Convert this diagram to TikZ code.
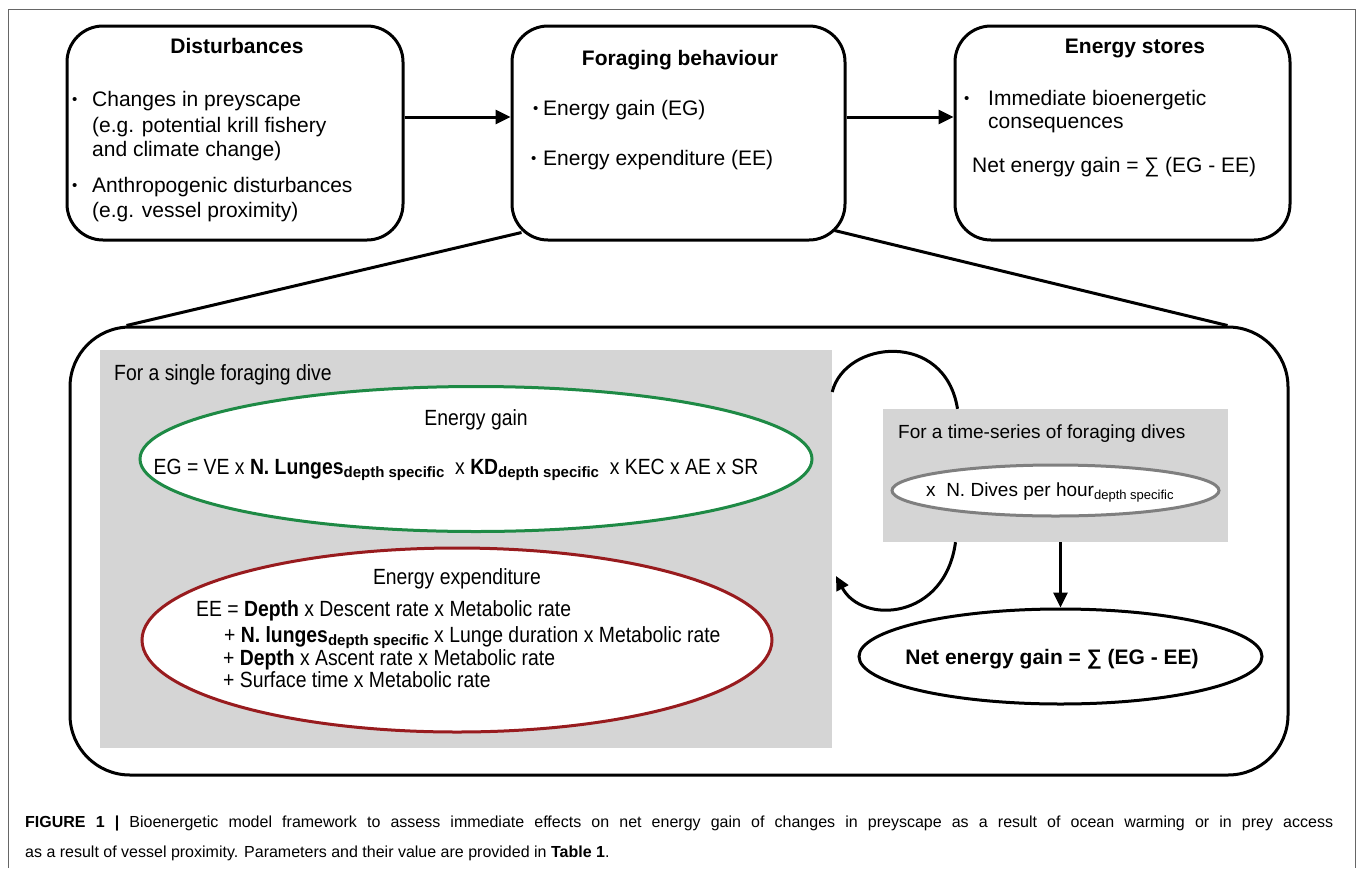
\documentclass[tikz,border=0pt]{standalone}
\usepackage{fontspec}
\setmainfont{Liberation Sans}
\newfontfamily\cond[FakeStretch=0.88]{Liberation Sans}
\usetikzlibrary{arrows.meta,shapes.geometric}
\definecolor{eggreen}{HTML}{1E8A45}
\definecolor{eered}{HTML}{981B1E}
\definecolor{boxgray}{HTML}{D5D5D5}
\definecolor{ellgray}{HTML}{7F7F7F}
\definecolor{framegray}{HTML}{666666}
\begin{document}
\begin{tikzpicture}[x=1pt,y=-1pt,
  rbox/.style={draw, line width=3pt, rounded corners=36pt, inner sep=0pt, fill=white},
  graybox/.style={fill=boxgray, draw=none, inner sep=0pt},
  ell/.style={ellipse, draw, line width=3pt, fill=white, inner sep=0pt},
  txt/.style={inner sep=0pt, font=\fontsize{21}{25}\selectfont},
  bul/.style={inner sep=0pt, anchor=base west, font=\fontsize{15}{15}\selectfont},
  ttl/.style={inner sep=0pt, font=\fontsize{21}{25}\selectfont\bfseries, anchor=base},
  ctxt/.style={inner sep=0pt, font=\cond\fontsize{22}{26}\selectfont},
  conn/.style={line width=3pt},
  arr/.style={line width=3pt, -{Triangle[length=15pt,width=14pt]}},
  carr/.style={line width=3pt, -{Triangle[length=14pt,width=13pt]}},
  capt/.style={inner sep=0pt, anchor=base west, font=\fontsize{16}{19}\selectfont}
]
\useasboundingbox (0,0) rectangle (1358,868);
% outer frame
\draw[framegray, line width=1pt] (8,868) -- (8,9) -- (1355,9) -- (1355,868);

% top boxes
\node[rbox, minimum width=336pt, minimum height=214pt] (dist) at (235,133) {};
\node[rbox, minimum width=333pt, minimum height=214pt] (forag) at (678.5,133) {};
\node[rbox, minimum width=335pt, minimum height=214pt] (store) at (1122.5,133) {};

\draw[arr] ([yshift=16pt]dist.east) -- ([yshift=16pt]forag.west);
\draw[arr] ([yshift=16pt]forag.east) -- ([yshift=16pt]store.west);

% Disturbances text
\node[ttl] (distT) at (237,53) {Disturbances};
\node[bul] (distb1) at (72,104) {•};
\node[txt, anchor=base west] (distl1) at (92,106) {Changes in preyscape};
\node[txt, anchor=base west] (distl2) at (92,132) {(e.g. potential krill fishery};
\node[txt, anchor=base west] (distl3) at (92,156) {and climate change)};
\node[bul] (distb2) at (72,190) {•};
\node[txt, anchor=base west] (distl4) at (92,192) {Anthropogenic disturbances};
\node[txt, anchor=base west] (distl5) at (92,217) {(e.g. vessel proximity)};

% Foraging text
\node[ttl] (foragT) at (680,65) {Foraging behaviour};
\node[bul] (foragb1) at (533,113) {•};
\node[txt, anchor=base west] (foragl1) at (543,115) {Energy gain (EG)};
\node[bul] (foragb2) at (531,163) {•};
\node[txt, anchor=base west] (foragl2) at (543,165) {Energy expenditure (EE)};

% Energy stores text
\node[ttl] (storeT) at (1135,53) {Energy stores};
\node[bul] (storeb1) at (964,103) {•};
\node[txt, anchor=base west] (storel1) at (988,105) {Immediate bioenergetic};
\node[txt, anchor=base west] (storel2) at (988,128) {consequences};
\node[txt, anchor=base west] (storel3) at (972,172) {Net energy gain = ∑ (EG - EE)};

% big box
\node[rbox, rounded corners=60pt, minimum width=1218pt, minimum height=448pt] (big) at (679,551) {};
\draw[conn] ([xshift=11pt,yshift=9pt]forag.south west) -- ([xshift=58pt]big.north west);
\draw[conn] ([xshift=-12pt,yshift=11pt]forag.south east) -- ([xshift=-62pt]big.north east);

% single dive panel
\node[graybox, minimum width=732pt, minimum height=398pt] (single) at (466,549) {};
\node[ctxt, anchor=base west] (singleT) at (114,380) {For a single foraging dive};

\node[ell, draw=eggreen, minimum width=672pt, minimum height=145pt] (eg) at (476,459) {};
\node[ctxt, anchor=base] (egT) at (476,425) {Energy gain};
\node[ctxt, anchor=base] (egF) at (456,474) {EG = VE x \textbf{N. Lunges}{\normalfont\fontsize{15}{15}\selectfont\bfseries\raisebox{-3pt}{depth specific}}\ \ x \textbf{KD}{\normalfont\fontsize{15}{15}\selectfont\bfseries\raisebox{-3pt}{depth specific}}\ \ x KEC x AE x SR};

\node[ell, draw=eered, minimum width=630pt, minimum height=184pt] (ee) at (457,640) {};
\node[ctxt, anchor=base] (eeT) at (457,584) {Energy expenditure};
\node[ctxt, anchor=base west] (ee1) at (196,616) {EE = \textbf{Depth} x Descent rate x Metabolic rate};
\node[ctxt, anchor=base west] (ee2) at (224,642) {+ \textbf{N. lunges}{\normalfont\fontsize{15}{15}\selectfont\bfseries\raisebox{-3pt}{depth specific}} x Lunge duration x Metabolic rate};
\node[ctxt, anchor=base west] (ee3) at (223,665) {+ \textbf{Depth} x Ascent rate x Metabolic rate};
\node[ctxt, anchor=base west] (ee4) at (223,687) {+ Surface time x Metabolic rate};

% time-series panel
\node[graybox, minimum width=345pt, minimum height=133pt] (ts) at (1055.5,475.5) {};
\node[inner sep=0pt, anchor=base west, font=\fontsize{19}{22}\selectfont] (tsT) at (898,438) {For a time-series of foraging dives};
\node[ell, draw=ellgray, minimum width=327pt, minimum height=51pt] (dives) at (1055.5,490.5) {};
\node[inner sep=0pt, anchor=base west, font=\fontsize{19}{22}\selectfont] (divesT) at (926,496) {x\ \ N. Dives per hour{\fontsize{13}{13}\selectfont\raisebox{-3pt}{depth specific}}};

\node[ell, minimum width=403pt, minimum height=95pt] (net) at (1060.5,656.5) {};
\node[inner sep=0pt, anchor=base, font=\fontsize{21}{25}\selectfont\bfseries] (netT) at (1052,664) {Net energy gain = ∑ (EG - EE)};

\draw[arr] (ts.south -| net.north) -- (net.north);

% loop arcs
\draw[conn] ([yshift=157pt]single.east) .. controls (845,340) and (945,330) .. ([xshift=-98pt]ts.north);
\draw[carr] ([xshift=-100pt]ts.south) .. controls (945,620) and (862,625) .. (836,576);

% caption
\node[capt] (cap1) at (25,827) {\makebox[1308pt][s]{\textbf{FIGURE 1 |} Bioenergetic model framework to assess immediate effects on net energy gain of changes in preyscape as a result of ocean warming or in prey access}};
\node[capt] (cap2) at (25,857) {as a result of vessel proximity. Parameters and their value are provided in \textbf{Table 1}.};
\end{tikzpicture}
\end{document}
